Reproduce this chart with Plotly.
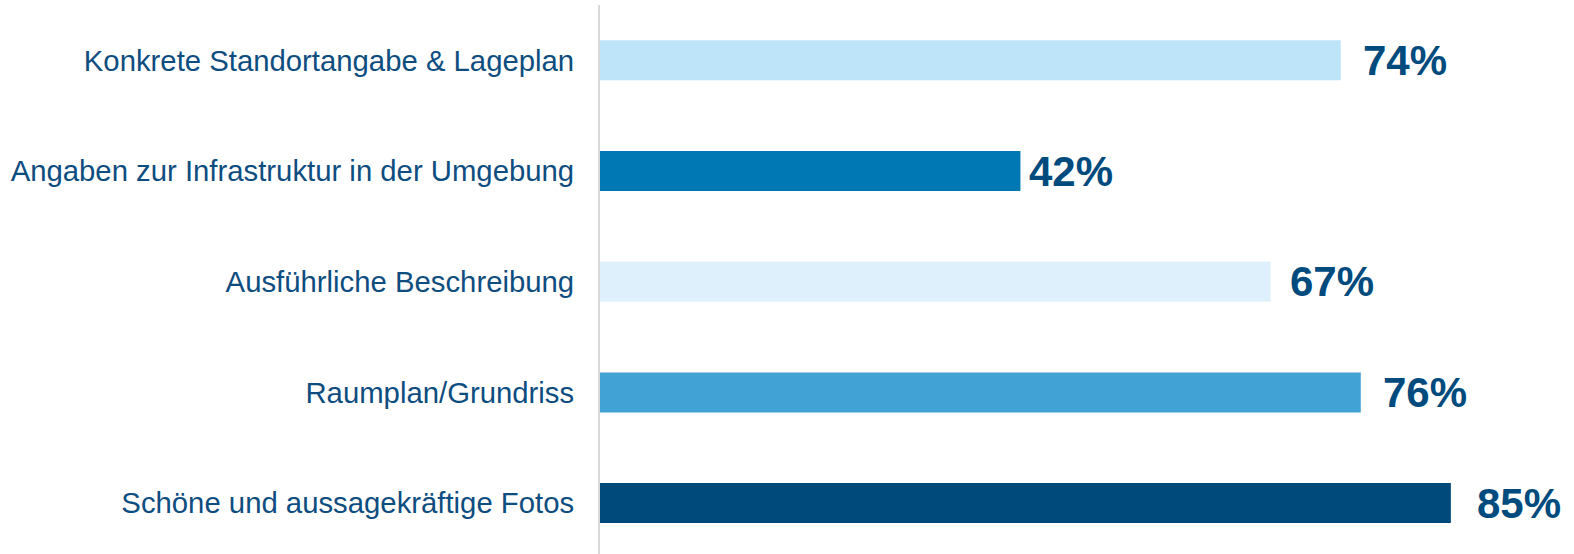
import plotly.graph_objects as go

categories = [
    "Konkrete Standortangabe & Lageplan",
    "Angaben zur Infrastruktur in der Umgebung",
    "Ausführliche Beschreibung",
    "Raumplan/Grundriss",
    "Schöne und aussagekräftige Fotos",
]
values = [74, 42, 67, 76, 85]
bar_colors = ["#BDE4F9", "#0078B4", "#DEF0FC", "#41A2D6", "#004A7B"]
value_labels = [f"{v}%" for v in values]

FONT = "Liberation Sans, Arial, sans-serif"
TEXT_COLOR = "#0E4D80"
LABEL_COLOR = "#004B7E"

fig = go.Figure()
fig.add_trace(go.Bar(
    x=values,
    y=categories,
    orientation="h",
    marker=dict(color=bar_colors, line=dict(width=0)),
    width=0.361,
    hoverinfo="skip",
))

for cat, v, lab in zip(categories, values, value_labels):
    fig.add_annotation(
        x=v, y=cat, text=f"<b>{lab}</b>", showarrow=False,
        xanchor="left", yanchor="middle", xshift=-10.5 + 0.41 * v,
        font=dict(family=FONT, size=42, color=LABEL_COLOR),
    )

fig.update_layout(
    width=1574, height=554,
    margin=dict(l=600, r=0, t=5, b=0, autoexpand=False),
    paper_bgcolor="white", plot_bgcolor="white",
    showlegend=False,
    xaxis=dict(range=[0, 97.3], visible=False, fixedrange=True),
    yaxis=dict(
        categoryorder="array", categoryarray=categories,
        range=[4.46, -0.5],
        showline=True, linecolor="#D9D9D9", linewidth=2,
        showgrid=False, zeroline=False,
        ticks="", ticklabelstandoff=18,
        tickfont=dict(family=FONT, size=29.3, color=TEXT_COLOR),
        fixedrange=True,
    ),
)

fig.write_html(
    "out.html",
    config={"displayModeBar": False},
    post_script="document.body.style.margin='0';document.body.style.padding='0';",
)
